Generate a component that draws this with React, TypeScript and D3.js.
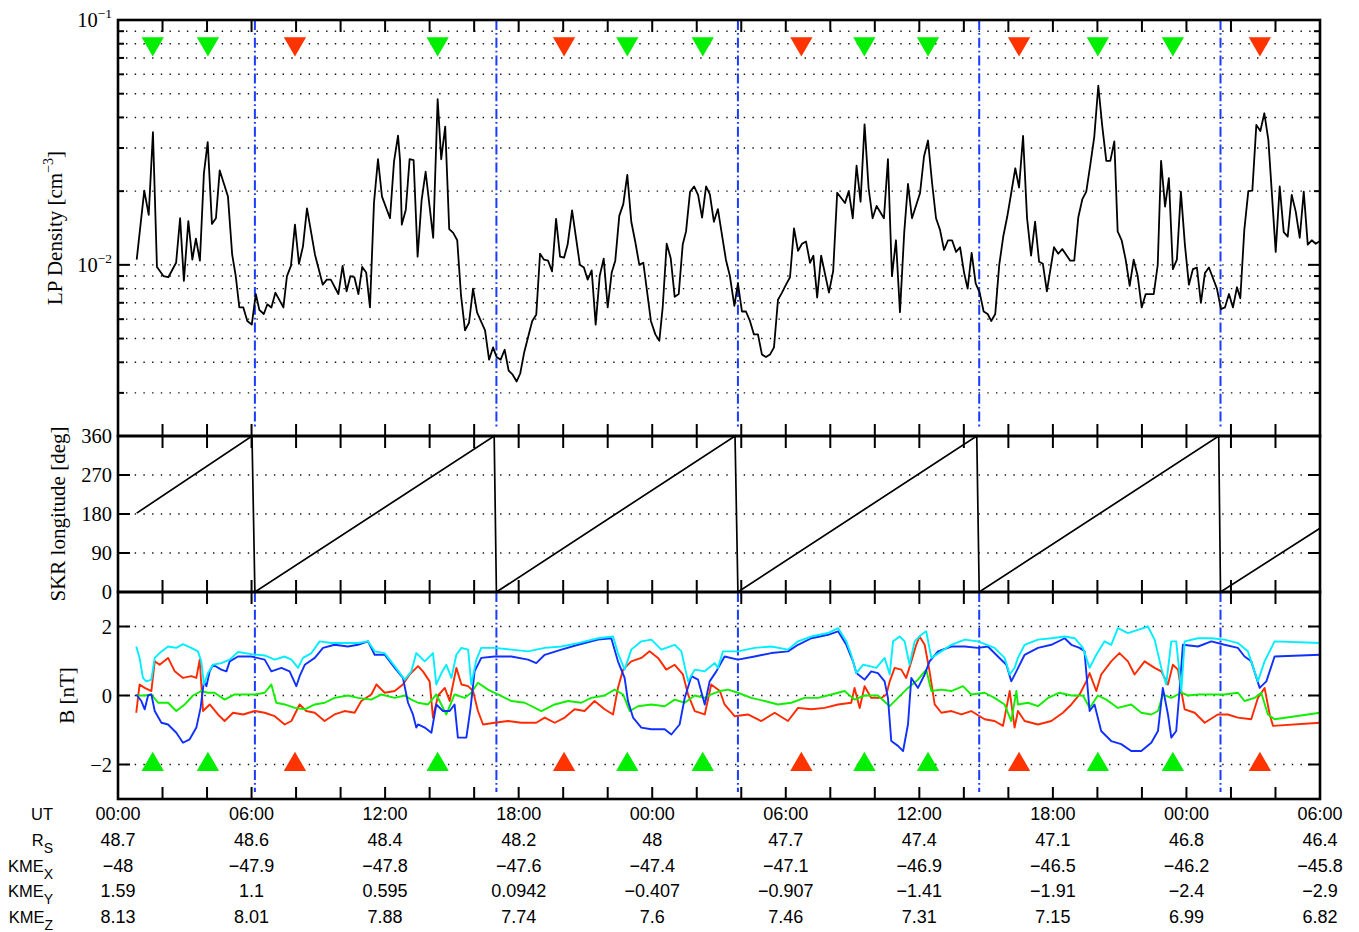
import React from "react";
import * as d3 from "d3";

// LP density, time in hours from 00:00 of day 1
const denHours = [
  0.84, 1.18, 1.38, 1.57, 1.75, 2.04, 2.26, 2.61, 2.79, 2.96, 3.16, 3.34, 3.5, 3.68, 3.86, 4.03, 4.22, 4.4, 4.57, 4.94,
  5.13, 5.29, 5.45, 5.63, 5.81, 6.01, 6.19, 6.35, 6.55, 6.71, 6.89, 7.07, 7.43, 7.59, 7.77, 7.95, 8.13, 8.31, 8.49, 8.85,
  9.2, 9.38, 9.56, 9.9, 10.09, 10.27, 10.44, 10.62, 10.8, 10.97, 11.15, 11.32, 11.5, 11.68, 11.86, 12.22, 12.4, 12.58, 12.67, 12.75,
  12.93, 13.1, 13.28, 13.46, 13.64, 13.82, 14.16, 14.36, 14.52, 14.7, 14.88, 15.06, 15.24, 15.41, 15.59, 15.77, 15.95, 16.13, 16.49, 16.67,
  16.85, 17.01, 17.19, 17.37, 17.55, 17.73, 17.91, 18.07, 18.25, 18.43, 18.61, 18.79, 18.96, 19.14, 19.32, 19.5, 19.68, 19.86, 20.04, 20.2,
  20.4, 20.75, 20.93, 21.1, 21.28, 21.46, 21.64, 21.82, 22.0, 22.18, 22.34, 22.52, 22.7, 22.88, 23.06, 23.24, 23.42, 23.6, 23.94, 24.14,
  24.32, 24.47, 24.65, 24.83, 25.01, 25.19, 25.37, 25.52, 25.7, 25.88, 26.06, 26.24, 26.42, 26.59, 26.77, 26.95, 27.31, 27.49, 27.69, 27.85,
  28.03, 28.21, 28.39, 28.57, 28.75, 28.93, 29.11, 29.29, 29.47, 29.65, 29.83, 30.01, 30.19, 30.37, 30.55, 30.73, 30.91, 31.09, 31.24, 31.41,
  31.59, 31.94, 32.13, 32.31, 32.66, 32.83, 33.01, 33.18, 33.36, 33.54, 33.72, 33.9, 34.08, 34.41, 34.59, 34.77, 34.95, 35.13, 35.32, 35.49,
  35.67, 36.03, 36.21, 36.39, 36.57, 36.75, 36.93, 37.11, 37.29, 37.47, 37.65, 37.83, 38.01, 38.17, 38.35, 38.53, 38.71, 38.89, 39.07, 39.23,
  39.41, 39.59, 39.77, 39.95, 40.13, 40.31, 40.48, 40.66, 40.84, 41.02, 41.2, 41.38, 41.55, 41.73, 42.05, 42.24, 42.42, 42.78, 42.96, 43.14,
  43.32, 43.5, 43.68, 43.86, 44.04, 44.22, 44.4, 44.58, 44.76, 44.91, 45.09, 45.27, 45.45, 45.63, 45.81, 45.99, 46.17, 46.53, 46.71, 46.86,
  47.04, 47.21, 47.39, 47.57, 47.75, 47.93, 48.11, 48.29, 48.47, 48.65, 48.83, 49.01, 49.37, 49.55, 49.73, 49.91, 50.09, 50.27, 50.42, 50.6,
  50.78, 50.96, 51.14, 51.32, 51.5, 51.68, 52.01, 52.19, 52.37, 52.55, 52.73, 52.91, 53.09, 53.27, 53.45, 53.63, 53.81, 53.96,
];
// cm^-3
const denValues = [
  10.5e-3, 20.1e-3, 16.0e-3, 34.8e-3, 9.8e-3, 9.0e-3, 8.9e-3, 10.2e-3, 15.5e-3, 8.6e-3, 15.1e-3, 10.5e-3, 12.8e-3, 10.4e-3, 23.7e-3, 31.7e-3, 14.7e-3, 15.5e-3, 24.3e-3, 19.0e-3,
  11.0e-3, 9.0e-3, 6.7e-3, 6.7e-3, 5.9e-3, 5.7e-3, 7.6e-3, 6.55e-3, 6.3e-3, 6.9e-3, 6.7e-3, 7.7e-3, 6.7e-3, 9.0e-3, 9.9e-3, 14.6e-3, 10.1e-3, 11.9e-3, 17.0e-3, 11.0e-3,
  8.3e-3, 8.7e-3, 8.7e-3, 7.6e-3, 9.9e-3, 7.8e-3, 9.0e-3, 8.9e-3, 7.6e-3, 9.8e-3, 9.3e-3, 6.7e-3, 17.9e-3, 27.0e-3, 19.0e-3, 15.5e-3, 26.4e-3, 33.7e-3, 26.8e-3, 14.6e-3,
  16.8e-3, 27.0e-3, 26.8e-3, 10.8e-3, 18.4e-3, 24.0e-3, 12.9e-3, 47.5e-3, 27.0e-3, 36.7e-3, 14.0e-3, 13.5e-3, 12.6e-3, 7.5e-3, 5.4e-3, 5.8e-3, 8.0e-3, 6.4e-3, 5.4e-3, 4.1e-3,
  4.6e-3, 4.2e-3, 4.1e-3, 4.5e-3, 3.7e-3, 3.56e-3, 3.34e-3, 3.6e-3, 4.4e-3, 5.1e-3, 5.9e-3, 6.25e-3, 11.1e-3, 10.5e-3, 10.4e-3, 9.4e-3, 15.4e-3, 10.8e-3, 10.7e-3, 12.1e-3,
  16.7e-3, 10.0e-3, 9.75e-3, 8.7e-3, 9.5e-3, 5.7e-3, 9.0e-3, 10.6e-3, 6.7e-3, 9.3e-3, 10.4e-3, 15.85e-3, 17.7e-3, 23.3e-3, 15.0e-3, 12.4e-3, 10.0e-3, 10.2e-3, 5.9e-3, 5.2e-3,
  4.9e-3, 6.7e-3, 12.2e-3, 10.65e-3, 7.4e-3, 7.6e-3, 12.1e-3, 13.7e-3, 19.9e-3, 20.9e-3, 19.3e-3, 15.6e-3, 20.9e-3, 19.4e-3, 15.0e-3, 16.9e-3, 10.5e-3, 9.0e-3, 6.8e-3, 8.4e-3,
  6.45e-3, 6.45e-3, 5.9e-3, 5.2e-3, 5.2e-3, 4.3e-3, 4.2e-3, 4.3e-3, 4.6e-3, 7.2e-3, 7.7e-3, 8.3e-3, 8.9e-3, 14.1e-3, 11.4e-3, 12.2e-3, 12.45e-3, 10.2e-3, 10.9e-3, 7.35e-3,
  10.9e-3, 7.7e-3, 9.45e-3, 19.7e-3, 17.9e-3, 20.0e-3, 15.5e-3, 25.4e-3, 18.1e-3, 37.5e-3, 20.6e-3, 15.5e-3, 17.4e-3, 15.5e-3, 27.0e-3, 9.0e-3, 12.6e-3, 6.4e-3, 13.5e-3, 21.4e-3,
  15.5e-3, 19.6e-3, 27.7e-3, 32.2e-3, 21.7e-3, 15.5e-3, 13.9e-3, 11.5e-3, 12.6e-3, 12.6e-3, 11.3e-3, 11.8e-3, 9.3e-3, 8.0e-3, 11.2e-3, 8.4e-3, 7.7e-3, 6.45e-3, 6.3e-3, 5.9e-3,
  6.3e-3, 10.0e-3, 13.05e-3, 15.75e-3, 19.7e-3, 24.8e-3, 20.7e-3, 33.6e-3, 15.5e-3, 10.9e-3, 15.0e-3, 10.3e-3, 10.1e-3, 7.8e-3, 11.8e-3, 11.1e-3, 11.6e-3, 10.4e-3, 10.4e-3, 15.6e-3,
  18.5e-3, 19.9e-3, 25.6e-3, 33.4e-3, 53.9e-3, 36.7e-3, 26.6e-3, 26.6e-3, 31.9e-3, 13.7e-3, 12.6e-3, 10.5e-3, 8.2e-3, 10.5e-3, 9.0e-3, 6.7e-3, 7.6e-3, 7.6e-3, 10.0e-3, 26.6e-3,
  17.3e-3, 22.6e-3, 9.6e-3, 10.5e-3, 19.9e-3, 12.1e-3, 8.3e-3, 9.6e-3, 9.75e-3, 7.0e-3, 9.25e-3, 9.75e-3, 8.0e-3, 6.6e-3, 6.7e-3, 7.6e-3, 6.7e-3, 8.1e-3, 7.3e-3, 13.9e-3,
  20.0e-3, 20.1e-3, 37.3e-3, 35.2e-3, 41.6e-3, 32.4e-3, 11.3e-3, 20.9e-3, 13.6e-3, 13.05e-3, 19.3e-3, 16.5e-3, 12.9e-3, 19.9e-3, 12.1e-3, 12.6e-3, 12.2e-3, 12.45e-3,
];

// SKR longitude (deg)
const skrHours = [0.84, 6.02, 6.15, 16.9, 17.0, 27.72, 27.85, 38.58, 38.69, 49.45, 49.53, 54];
const skrLon = [182, 360, 0, 360, 0, 360, 0, 360, 0, 360, 0, 147];
const skrZeroHours = [6.15, 17.0, 27.85, 38.69, 49.53];

// magnetic field components [hour, nT]
const bRed: [number, number][] = [
  [0.82, -0.5], [0.97, 0.32], [1.2, 0.22], [1.5, 0.13], [1.65, 0.99], [1.87, 0.89], [2.25, 1.09], [2.55, 0.7], [2.92, 0.51], [3.29, 0.56],
  [3.52, 0.51], [3.67, 1.04], [3.82, -0.45], [4.12, -0.26], [4.49, -0.55], [4.79, -0.74], [5.17, -0.5], [5.62, -0.55], [6.14, -0.45], [6.59, -0.5],
  [7.04, -0.6], [7.49, -0.84], [7.79, -0.74], [8.16, -0.26], [8.46, -0.45], [8.84, -0.5], [9.28, -0.74], [9.73, -0.55], [10.18, -0.45], [10.63, -0.5],
  [10.93, -0.16], [11.38, 0.03], [11.61, 0.32], [11.98, 0.08], [12.43, 0.13], [12.8, 0.32], [13.1, 0.61], [13.4, 0.8],
  [13.48, 0.85], [13.7, 0.7], [14.0, 0.41], [14.15, -0.64], [14.38, 0.0], [14.68, 0.22], [14.9, -0.16], [15.2, 0.8], [15.43, 0.32], [15.73, 0.27],
  [15.95, 0.13], [16.17, -0.45], [16.4, -0.84], [16.92, -0.79], [17.52, -0.74], [18.12, -0.79], [18.79, -0.79], [19.17, -0.64], [19.62, -0.79], [20.07, -0.64],
  [20.51, -0.4], [20.96, -0.45], [21.41, -0.16], [21.86, -0.4], [22.24, -0.55], [22.46, 0.22], [22.69, 0.75], [23.06, 0.99], [23.51, 1.09], [23.88, 1.28],
  [24.26, 1.09], [24.63, 0.75], [25.01, 0.89], [25.38, 0.61], [25.61, 0.03], [25.91, -0.45], [26.36, -0.55], [26.65, 0.32], [27.04, 0.13],
  [27.25, -0.26], [27.7, -0.6], [28.3, -0.55], [28.9, -0.74], [29.5, -0.5], [30.1, -0.74], [30.55, -0.36], [31.15, -0.4], [31.75, -0.36], [32.35, -0.26],
  [32.94, -0.21], [33.09, 0.22], [33.32, -0.36], [33.54, 0.27], [33.84, -0.07], [34.29, -0.07], [34.52, 0.03], [34.67, 0.41], [34.89, 0.8], [35.19, 0.75],
  [35.41, 0.51], [35.64, 0.99], [35.86, 1.47], [36.01, 1.71], [36.24, 1.47], [36.46, 0.7], [36.69, -0.26], [36.99, -0.5], [37.44, -0.45], [37.89, -0.55],
  [38.33, -0.45], [38.93, -0.69], [39.38, -0.74], [39.76, -0.88], [40.06, 0.13], [40.28, -0.93],
  [40.43, -0.45], [40.73, -0.74], [41.33, -0.84], [41.93, -0.74], [42.45, -0.5], [42.83, -0.26], [43.2, 0.03], [43.5, 0.41], [43.65, 0.65], [43.95, 0.13],
  [44.17, 0.61], [44.62, 0.99], [44.99, 1.23], [45.37, 0.99], [45.67, 0.61], [46.12, 0.99], [46.57, 0.8], [46.87, 0.7], [47.17, 0.32], [47.39, 0.89],
  [47.62, 0.75], [47.77, 0.13], [47.92, -0.4], [48.37, -0.5], [48.82, -0.79], [49.41, -0.55], [49.86, -0.55], [50.31, -0.64], [50.91, -0.69], [51.21, -0.07],
  [51.51, 0.22], [51.74, -0.55], [51.89, -0.88], [54.0, -0.79],
];
const bGreen: [number, number][] = [
  [0.82, 0.0], [1.2, 0.0], [1.5, 0.03], [1.8, -0.21], [2.25, -0.21], [2.62, -0.45], [3.0, -0.26], [3.37, 0.0], [3.74, 0.13], [4.04, 0.08],
  [4.34, 0.08], [4.79, -0.12], [5.24, 0.03], [5.69, 0.03], [6.14, 0.03], [6.59, 0.08], [6.89, 0.32], [7.11, -0.21], [7.49, -0.26], [7.94, -0.36],
  [8.39, -0.4], [8.84, -0.26], [9.28, -0.21], [9.73, -0.07], [10.33, 0.0], [10.78, -0.07], [11.38, -0.12], [11.83, 0.03], [12.43, -0.07], [12.88, 0.0],
  [13.18, -0.12], [13.48, -0.21], [13.93, -0.26], [14.3, 0.03], [14.75, -0.55], [15.12, 0.03], [15.57, -0.07], [15.87, 0.08], [16.17, 0.37], [16.62, 0.17],
  [17.07, 0.03], [17.67, -0.16], [18.27, -0.21], [19.02, -0.45], [19.62, -0.26], [20.22, -0.16], [20.81, -0.21], [21.26, -0.07], [21.86, 0.0], [22.31, 0.17],
  [22.69, 0.03], [22.99, -0.45], [23.36, -0.31], [23.96, -0.26], [24.56, -0.31], [25.01, -0.12], [25.46, -0.21], [25.91, 0.0], [26.36, -0.07], [26.65, 0.03],
  [27.04, 0.13], [27.4, 0.17], [27.85, 0.08], [28.45, -0.07], [29.05, -0.16], [29.65, -0.26], [30.25, -0.21], [30.85, -0.07], [31.45, -0.07], [32.05, 0.03],
  [32.64, 0.13], [33.09, -0.12], [33.54, 0.0], [34.14, 0.0], [34.67, -0.31], [35.04, -0.07], [35.49, 0.22], [35.94, 0.46], [36.31, 0.75], [36.54, 0.13],
  [36.99, 0.17], [37.44, 0.13], [37.96, 0.27], [38.33, 0.03], [38.93, 0.08], [39.38, -0.07], [39.83, -0.26], [40.13, -0.74], [40.36, 0.13],
  [40.43, -0.26], [40.88, -0.21], [41.33, -0.31], [41.78, -0.07], [42.3, 0.08], [42.83, 0.0], [43.35, 0.0], [43.65, -0.36], [44.02, 0.0], [44.4, -0.12],
  [44.92, -0.36], [45.52, -0.26], [45.97, -0.5], [46.42, -0.55], [46.72, -0.45], [46.94, 0.03], [47.32, -0.07], [47.77, 0.08], [48.07, 0.0], [48.52, 0.03],
  [49.12, 0.03], [49.71, 0.03], [50.31, 0.08], [50.61, -0.16], [51.06, -0.07], [51.36, 0.08], [51.66, -0.55], [51.96, -0.69], [54.0, -0.5],
];
const bBlue: [number, number][] = [
  [0.82, 0.03], [1.05, -0.16], [1.2, -0.4], [1.35, 0.0], [1.5, 0.03], [1.65, -0.45], [1.95, -0.79], [2.25, -0.84], [2.62, -1.08], [2.92, -1.37],
  [3.22, -1.27], [3.52, -0.93], [3.71, -0.36], [3.86, 0.41], [3.97, 0.27], [4.12, 0.7], [4.27, 0.89], [4.64, 0.75], [4.87, 0.7], [5.02, 0.99],
  [5.39, 1.13], [5.99, 1.13], [6.59, 1.04], [6.89, 0.7], [7.34, 0.8], [7.71, 0.7], [8.01, 0.27], [8.16, 0.56], [8.39, 0.89], [8.84, 1.09],
  [9.21, 1.38], [9.73, 1.47], [10.33, 1.42], [10.78, 1.47], [11.23, 1.57], [11.53, 1.18], [11.98, 1.18], [12.43, 0.8], [12.8, 0.51], [13.03, -0.21],
  [13.25, -0.55], [13.4, -0.93], [13.48, -0.84], [13.78, -0.93], [14.08, -1.08], [14.3, -0.26], [14.6, -0.45], [14.9, -0.45], [15.12, -0.26], [15.27, -1.22],
  [15.65, -1.22], [15.84, -0.36], [16.02, 0.7], [16.32, 1.09], [16.92, 1.13], [17.67, 1.13], [18.42, 1.04], [18.79, 0.94], [19.17, 1.18], [19.92, 1.33],
  [20.67, 1.47], [21.57, 1.62], [22.16, 1.66], [22.46, 0.99], [22.76, 0.51], [22.91, -0.16], [23.14, -0.64], [23.51, -0.93], [23.96, -0.98], [24.56, -0.98],
  [24.86, -1.13], [25.23, -0.84], [25.46, -0.07], [25.76, 0.56], [26.06, 0.46], [26.36, -0.26], [26.58, 0.41], [26.88, 0.7], [27.25, 1.13], [27.85, 1.04],
  [28.6, 1.13], [29.35, 1.23], [30.1, 1.28], [30.55, 1.47], [31.15, 1.66], [31.9, 1.76], [32.35, 1.86], [32.72, 1.47], [33.02, 0.99], [33.17, 0.65],
  [33.54, 0.46], [33.84, 0.7], [34.14, 0.65], [34.44, 0.41], [34.59, -0.07], [34.74, -1.32], [35.04, -1.46], [35.27, -1.61], [35.49, -0.84], [35.64, 0.51],
  [35.94, 0.22], [36.24, 0.61], [36.46, 0.99], [36.84, 1.28], [37.44, 1.42], [38.04, 1.42], [38.63, 1.38], [39.08, 1.42], [39.53, 1.13], [39.91, 0.89],
  [40.13, 0.41], [40.36, 0.7], [40.73, 1.18], [41.33, 1.38], [41.93, 1.47], [42.53, 1.66], [42.83, 1.47], [43.2, 1.38], [43.42, 1.28], [43.65, -0.45],
  [43.87, -0.26], [44.17, -1.03], [44.62, -1.32], [45.07, -1.41], [45.52, -1.61], [45.97, -1.61], [46.42, -1.37], [46.72, -1.03], [46.94, 0.22], [47.17, -0.55],
  [47.32, -1.22], [47.54, -1.03], [47.69, 0.13], [47.84, 1.47], [48.52, 1.42], [49.12, 1.57], [49.71, 1.47], [50.31, 1.38], [50.61, 1.13], [50.91, 0.99],
  [51.29, 0.22], [51.59, 0.41], [51.96, 1.13], [54.0, 1.18],
];
const bMag: [number, number][] = [
  [0.82, 1.42], [0.97, 1.09], [1.12, 0.51], [1.27, 0.41], [1.5, 0.46], [1.65, 1.09], [1.87, 1.23], [2.25, 1.42], [2.62, 1.38], [2.92, 1.49],
  [3.29, 1.38], [3.59, 1.28], [3.74, 0.99], [3.86, 0.32], [4.04, 0.65], [4.27, 0.89], [4.64, 0.94], [5.02, 1.04], [5.39, 1.26], [5.99, 1.2],
  [6.59, 1.16], [7.04, 1.04], [7.49, 1.13], [7.79, 1.04], [8.09, 0.8], [8.31, 1.09], [8.69, 1.23], [9.06, 1.57], [9.58, 1.52], [10.18, 1.52],
  [10.78, 1.52], [11.23, 1.57], [11.53, 1.28], [11.98, 1.23], [12.43, 0.85], [12.88, 0.46], [13.18, 0.7], [13.4, 1.23], [13.48, 1.18], [13.78, 0.99],
  [14.15, 1.23], [14.3, 0.32], [14.53, 0.65], [14.75, 0.89], [14.98, 0.51], [15.2, 1.18], [15.43, 1.38], [15.73, 1.33], [15.87, 0.32], [16.1, 1.04],
  [16.32, 1.38], [16.92, 1.38], [17.67, 1.33], [18.42, 1.28], [19.17, 1.38], [19.92, 1.42], [20.67, 1.52], [21.57, 1.66], [22.24, 1.71], [22.46, 1.23],
  [22.76, 0.75], [23.06, 1.33], [23.51, 1.57], [23.96, 1.62], [24.41, 1.33], [25.01, 1.47], [25.31, 1.28], [25.61, 0.41], [25.91, 0.75], [26.36, 0.7],
  [26.81, 0.94], [26.95, 0.8], [27.18, 1.28], [27.85, 1.28], [28.6, 1.38], [29.35, 1.42], [30.1, 1.33], [30.55, 1.57], [31.15, 1.71], [31.9, 1.81],
  [32.35, 1.95], [32.72, 1.57], [32.94, 1.18], [33.17, 0.65], [33.47, 0.89], [33.77, 0.85], [34.07, 0.8], [34.44, 1.09], [34.67, 0.61], [34.82, 1.57],
  [35.12, 1.71], [35.34, 1.57], [35.56, 0.89], [35.79, 1.57], [36.09, 1.76], [36.31, 1.86], [36.54, 1.09], [36.99, 1.28], [37.44, 1.47], [38.04, 1.62],
  [38.63, 1.57], [39.38, 1.38], [39.83, 1.09], [40.06, 0.61], [40.28, 0.8], [40.43, 1.09], [40.73, 1.47], [41.33, 1.62], [41.93, 1.66], [42.53, 1.71],
  [42.98, 1.66], [43.35, 1.38], [43.65, 0.8], [43.95, 1.18], [44.32, 1.57], [44.62, 1.47], [44.92, 1.95], [45.37, 1.81], [45.82, 1.9], [46.27, 2.0],
  [46.57, 1.62], [46.87, 0.8], [47.09, 0.32], [47.32, 1.57], [47.54, 1.57], [47.77, 0.13], [47.92, 1.57], [48.52, 1.66], [49.12, 1.66], [49.71, 1.62],
  [50.31, 1.52], [50.76, 1.28], [51.21, 0.41], [51.51, 0.99], [51.96, 1.57], [54.0, 1.52],
];

// event markers
const markerHours = [1.56, 4.04, 7.95, 14.36, 20.04, 22.88, 26.27, 30.7, 33.53, 36.39, 40.48, 44.02, 47.39, 51.3];
const markerKind = ["g", "g", "r", "g", "r", "g", "g", "r", "g", "g", "r", "g", "g", "r"];

// ephemeris table
const tableHours = [0, 6, 12, 18, 24, 30, 36, 42, 48, 54];
const utLabels = ["00:00", "06:00", "12:00", "18:00", "00:00", "06:00", "12:00", "18:00", "00:00", "06:00"];
const rsValues = [48.7, 48.6, 48.4, 48.2, 48, 47.7, 47.4, 47.1, 46.8, 46.4];
const kmeX = [-48, -47.9, -47.8, -47.6, -47.4, -47.1, -46.9, -46.5, -46.2, -45.8];
const kmeY = [1.59, 1.1, 0.595, 0.0942, -0.407, -0.907, -1.41, -1.91, -2.4, -2.9];
const kmeZ = [8.13, 8.01, 7.88, 7.74, 7.6, 7.46, 7.31, 7.15, 6.99, 6.82];

const W = 1359;
const H = 932;
const serif = '"Liberation Serif", "Times New Roman", serif';
const sans = '"Liberation Sans", Arial, Helvetica, sans-serif';

const x = d3.scaleLinear().domain([0, 54]).range([118, 1320]);
const yDen = d3.scaleLog().domain([0.002, 0.1]).range([436, 20]);
const ySkr = d3.scaleLinear().domain([0, 360]).range([592, 436]);
const yB = d3.scaleLinear().domain([-3, 3]).range([799, 592]);

const fmt = d3.format(".3~g");
const GREEN = "#00ee00";
const RED = "#ff3300";

function Dotted({ y }: { y: number }) {
  return (
    <line x1={x(0) + 8} x2={x(54)} y1={y} y2={y} stroke="#111" strokeWidth={1.4} strokeDasharray="1.4,7.3" />
  );
}

function Frame({ top, bottom, yTicks }: { top: number; bottom: number; yTicks: { y: number; len: number }[] }) {
  const [xl, xr] = x.range();
  const xt = d3.range(2, 54, 2);
  return (
    <g stroke="#000" strokeWidth={2}>
      {xt.map((h) => (
        <g key={h}>
          <line x1={x(h)} x2={x(h)} y1={top} y2={top + 12} />
          <line x1={x(h)} x2={x(h)} y1={bottom} y2={bottom - 12} />
        </g>
      ))}
      {yTicks.map((t, i) => (
        <g key={i}>
          <line x1={xl} x2={xl + t.len} y1={t.y} y2={t.y} />
          <line x1={xr} x2={xr - t.len} y1={t.y} y2={t.y} />
        </g>
      ))}
      <rect x={xl} y={top} width={xr - xl} height={bottom - top} fill="none" strokeWidth={2.6} />
    </g>
  );
}

export default function App() {
  const denLine = d3
    .line<number>()
    .x((_, i) => x(denHours[i]))
    .y((d) => yDen(d));
  const skrLine = d3
    .line<number>()
    .x((_, i) => x(skrHours[i]))
    .y((d) => ySkr(d));
  const bLine = d3
    .line<[number, number]>()
    .x((d) => x(d[0]))
    .y((d) => yB(d[1]));
  const tri = d3.symbol().type(d3.symbolTriangle).size(215)() as string;

  const denMajor = [0.01, 0.1];
  const denMinor: number[] = [];
  [0.001, 0.01].forEach((dec) => d3.range(2, 10).forEach((k) => denMinor.push(+(k * dec).toPrecision(3))));
  const denGrid = denMinor.filter((v) => v > 0.0025).concat([0.01]);

  const denTicks = denMajor
    .map((v) => ({ y: yDen(v), len: 12 }))
    .concat(denMinor.filter((v) => v > 0.0025).map((v) => ({ y: yDen(v), len: 6 })));
  const skrTicks = [90, 180, 270].map((v) => ({ y: ySkr(v), len: 12 }));
  const bTicks = [-2, 0, 2].map((v) => ({ y: yB(v), len: 12 }));

  const tableRows = [
    { label: "UT", sub: "", vals: utLabels, y: 820 },
    { label: "R", sub: "S", vals: rsValues.map(fmt), y: 846 },
    { label: "KME", sub: "X", vals: kmeX.map(fmt), y: 872 },
    { label: "KME", sub: "Y", vals: kmeY.map(fmt), y: 897 },
    { label: "KME", sub: "Z", vals: kmeZ.map(fmt), y: 923 },
  ];

  return (
    <svg width={W} height={H} style={{ position: "absolute", left: 0, top: 0, background: "#fff" }}>
      <rect width={W} height={H} fill="#fff" />
      {/* grids */}
      {denGrid.map((v) => (
        <Dotted key={"d" + v} y={yDen(v)} />
      ))}
      {[90, 180, 270].map((v) => (
        <Dotted key={"s" + v} y={ySkr(v)} />
      ))}
      {[-2, 0, 2].map((v) => (
        <Dotted key={"b" + v} y={yB(v)} />
      ))}

      {/* SKR zero crossings */}
      {skrZeroHours.map((h) => (
        <g key={"z" + h} stroke="#1a3cff" strokeWidth={2} strokeDasharray="10,3,1.8,3">
          <line x1={x(h)} x2={x(h)} y1={yDen(0.1)} y2={yDen(0.00215)} />
          <line x1={x(h)} x2={x(h)} y1={yB(3)} y2={yB(-2.8)} />
        </g>
      ))}

      {/* data */}
      <path d={denLine(denValues) as string} fill="none" stroke="#000" strokeWidth={1.8} strokeLinejoin="round" />
      <path d={skrLine(skrLon) as string} fill="none" stroke="#000" strokeWidth={1.7} />
      <path d={bLine(bRed) as string} fill="none" stroke="#ff2a00" strokeWidth={1.9} strokeLinejoin="round" />
      <path d={bLine(bGreen) as string} fill="none" stroke="#11ee00" strokeWidth={1.9} strokeLinejoin="round" />
      <path d={bLine(bBlue) as string} fill="none" stroke="#1030ff" strokeWidth={1.9} strokeLinejoin="round" />
      <path d={bLine(bMag) as string} fill="none" stroke="#00eeff" strokeWidth={1.9} strokeLinejoin="round" />

      {/* markers */}
      {markerHours.map((h, i) => (
        <g key={"m" + i} fill={markerKind[i] === "g" ? GREEN : RED}>
          <path d={tri} transform={`translate(${x(h)},${yDen(0.08)}) rotate(180)`} />
          <path d={tri} transform={`translate(${x(h)},${yB(-2)})`} />
        </g>
      ))}

      {/* frames */}
      <Frame top={yDen(0.1)} bottom={yDen(0.002)} yTicks={denTicks} />
      <Frame top={ySkr(360)} bottom={ySkr(0)} yTicks={skrTicks} />
      <Frame top={yB(3)} bottom={yB(-3)} yTicks={bTicks} />

      {/* y tick labels */}
      <g fontFamily={serif} fontSize={20.5} textAnchor="end" fill="#000">
        {denMajor.map((v) => (
          <text key={v} x={112} y={yDen(v) + 7}>
            10<tspan dy={-9} fontSize={13.5}>{"\u2212" + Math.round(-Math.log10(v))}</tspan>
          </text>
        ))}
        {[0, 90, 180, 270, 360].map((v) => (
          <text key={v} x={112} y={ySkr(v) + 7}>
            {v}
          </text>
        ))}
        {[-2, 0, 2].map((v) => (
          <text key={v} x={112} y={yB(v) + 7}>
            {fmt(v)}
          </text>
        ))}
      </g>

      {/* axis titles */}
      <g fontFamily={serif} fontSize={21} textAnchor="middle" fill="#000">
        <text transform={`translate(62,${(yDen(0.1) + yDen(0.002)) / 2}) rotate(-90)`}>
          LP Density [cm<tspan dy={-9} fontSize={14}>{"\u22123"}</tspan>
          <tspan dy={9}>]</tspan>
        </text>
        <text transform={`translate(65,${(ySkr(0) + ySkr(360)) / 2}) rotate(-90)`}>SKR longitude [deg]</text>
        <text transform={`translate(74,${yB(0)}) rotate(-90)`}>B [nT]</text>
      </g>

      {/* ephemeris table */}
      <g fontFamily={sans} fill="#000">
        {tableRows.map((r) => (
          <g key={r.label + r.sub}>
            <text x={53} y={r.y} textAnchor="end" fontSize={16.5}>
              {r.label}
              {r.sub && (
                <tspan dy={7} fontSize={14}>
                  {r.sub}
                </tspan>
              )}
            </text>
            {r.vals.map((v, i) => (
              <text key={i} x={x(tableHours[i])} y={r.y} textAnchor="middle" fontSize={18}>
                {v}
              </text>
            ))}
          </g>
        ))}
      </g>
    </svg>
  );
}
